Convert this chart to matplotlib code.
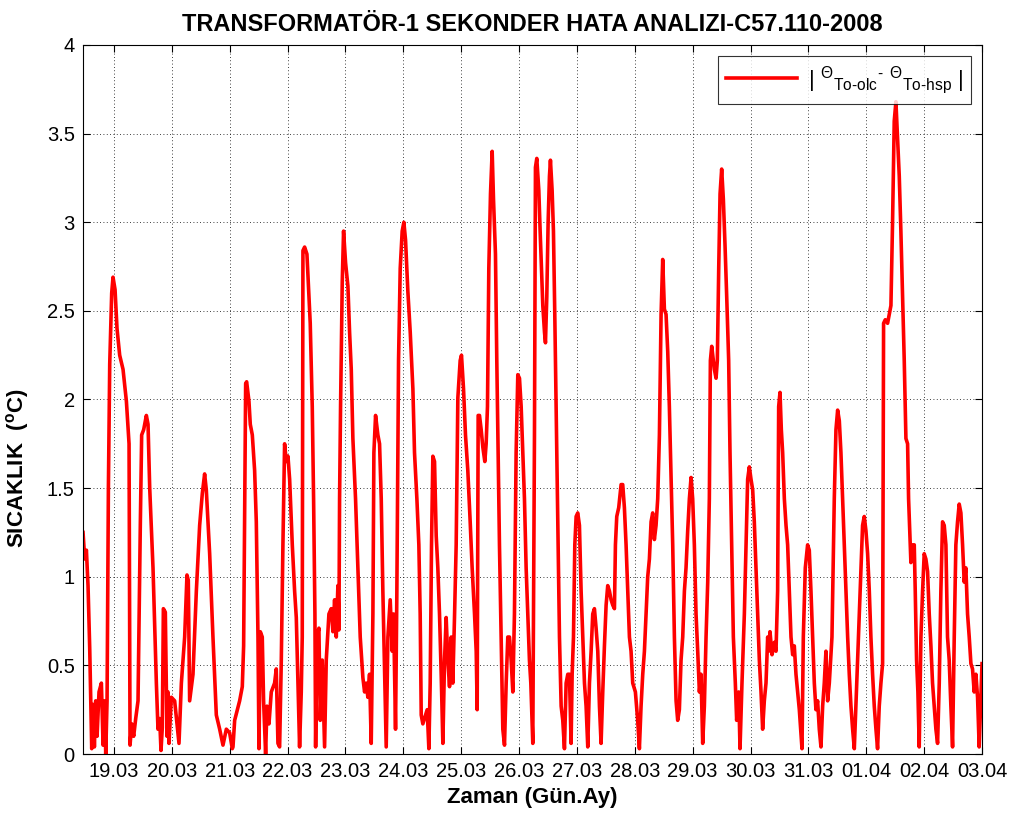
import numpy as np
import matplotlib.pyplot as plt
from matplotlib.ticker import FixedLocator, FixedFormatter

plt.rcParams['font.family'] = ['Liberation Sans', 'DejaVu Sans']
plt.rcParams['mathtext.fontset'] = 'custom'
plt.rcParams['mathtext.rm'] = 'Liberation Sans'
plt.rcParams['mathtext.it'] = 'Liberation Sans'

# time in days since 19.03 00:00, error in degC
days = np.array([
    -0.535, -0.506, -0.477, -0.449, -0.420, -0.402, -0.385, -0.362, -0.339, -0.316,
    -0.293, -0.259, -0.218, -0.189, -0.161, -0.143, -0.120, -0.097, -0.074, -0.040,
    -0.017, 0.018, 0.052, 0.098, 0.156, 0.214, 0.260, 0.277, 0.306, 0.340,
    0.375, 0.415, 0.455, 0.478, 0.513, 0.559, 0.588, 0.617, 0.674, 0.732,
    0.760, 0.789, 0.812, 0.835, 0.853, 0.887, 0.916, 0.933, 0.950, 0.991,
    1.048, 1.123, 1.164, 1.221, 1.261, 1.284, 1.307, 1.365, 1.423, 1.480,
    1.526, 1.566, 1.595, 1.653, 1.710, 1.768, 1.826, 1.883, 1.941, 1.998,
    2.044, 2.056, 2.085, 2.171, 2.217, 2.240, 2.257, 2.275, 2.292, 2.332,
    2.355, 2.390, 2.430, 2.459, 2.488, 2.505, 2.528, 2.562, 2.585, 2.620,
    2.643, 2.678, 2.718, 2.775, 2.804, 2.833, 2.862, 2.891, 2.919, 2.948,
    2.977, 3.006, 3.035, 3.081, 3.121, 3.150, 3.178, 3.207, 3.236, 3.253,
    3.265, 3.294, 3.334, 3.368, 3.391, 3.426, 3.449, 3.472, 3.484, 3.507,
    3.541, 3.564, 3.599, 3.639, 3.668, 3.714, 3.754, 3.783, 3.812, 3.841,
    3.869, 3.887, 3.898, 3.915, 3.944, 3.967, 4.002, 4.042, 4.071, 4.100,
    4.128, 4.174, 4.215, 4.255, 4.301, 4.330, 4.359, 4.387, 4.416, 4.445,
    4.474, 4.491, 4.520, 4.560, 4.589, 4.618, 4.646, 4.675, 4.704, 4.733,
    4.773, 4.808, 4.831, 4.865, 4.888, 4.917, 4.946, 4.980, 5.009, 5.038,
    5.078, 5.119, 5.165, 5.193, 5.234, 5.268, 5.291, 5.309, 5.337, 5.383,
    5.412, 5.441, 5.464, 5.487, 5.510, 5.539, 5.568, 5.596, 5.625, 5.654,
    5.683, 5.712, 5.740, 5.769, 5.798, 5.827, 5.855, 5.884, 5.913, 5.942,
    5.982, 6.005, 6.040, 6.074, 6.114, 6.155, 6.189, 6.230, 6.259, 6.276,
    6.293, 6.316, 6.345, 6.374, 6.408, 6.431, 6.454, 6.477, 6.506, 6.535,
    6.558, 6.592, 6.615, 6.638, 6.661, 6.690, 6.719, 6.748, 6.777, 6.805,
    6.834, 6.863, 6.892, 6.920, 6.949, 6.978, 7.007, 7.036, 7.064, 7.093,
    7.122, 7.151, 7.179, 7.203, 7.237, 7.266, 7.283, 7.306, 7.341, 7.364,
    7.387, 7.410, 7.439, 7.456, 7.479, 7.502, 7.525, 7.542, 7.571, 7.594,
    7.617, 7.640, 7.669, 7.698, 7.727, 7.755, 7.784, 7.813, 7.842, 7.870,
    7.899, 7.917, 7.940, 7.963, 7.986, 8.014, 8.043, 8.072, 8.101, 8.130,
    8.158, 8.187, 8.216, 8.245, 8.273, 8.302, 8.331, 8.360, 8.389, 8.417,
    8.446, 8.475, 8.504, 8.532, 8.561, 8.590, 8.619, 8.648, 8.665, 8.688,
    8.722, 8.763, 8.791, 8.820, 8.849, 8.878, 8.907, 8.935, 8.964, 9.010,
    9.050, 9.079, 9.108, 9.137, 9.166, 9.194, 9.223, 9.252, 9.281, 9.309,
    9.338, 9.367, 9.396, 9.425, 9.454, 9.482, 9.511, 9.540, 9.569, 9.597,
    9.626, 9.655, 9.684, 9.713, 9.741, 9.770, 9.799, 9.828, 9.857, 9.885,
    9.914, 9.943, 9.972, 10.000, 10.029, 10.058, 10.087, 10.116, 10.144, 10.173,
    10.202, 10.231, 10.260, 10.288, 10.306, 10.329, 10.346, 10.375, 10.404, 10.426,
    10.450, 10.473, 10.501, 10.530, 10.559, 10.588, 10.622, 10.645, 10.674, 10.703,
    10.737, 10.760, 10.795, 10.818, 10.852, 10.893, 10.922, 10.950, 10.979, 11.008,
    11.037, 11.065, 11.094, 11.123, 11.152, 11.181, 11.209, 11.238, 11.267, 11.296,
    11.313, 11.336, 11.371, 11.411, 11.440, 11.468, 11.486, 11.509, 11.532, 11.555,
    11.584, 11.613, 11.641, 11.670, 11.699, 11.728, 11.756, 11.785, 11.814, 11.843,
    11.889, 11.912, 11.946, 11.986, 12.015, 12.044, 12.073, 12.102, 12.130, 12.159,
    12.188, 12.217, 12.246, 12.274, 12.303, 12.332, 12.361, 12.407, 12.447, 12.476,
    12.505, 12.534, 12.562, 12.591, 12.620, 12.649, 12.678, 12.706, 12.735, 12.764,
    12.793, 12.821, 12.850, 12.879, 12.908, 12.936, 12.965, 12.994, 13.023, 13.052,
    13.080, 13.109, 13.138, 13.167, 13.195, 13.224, 13.253, 13.282, 13.299, 13.328,
    13.368, 13.397, 13.426, 13.454, 13.483, 13.512, 13.541, 13.570, 13.598, 13.627,
    13.656, 13.685, 13.714, 13.731, 13.754, 13.771, 13.800, 13.829, 13.846, 13.869,
    13.892, 13.915, 13.944, 13.973, 14.001, 14.030, 14.059, 14.088, 14.117, 14.145,
    14.174, 14.203, 14.232, 14.261, 14.289, 14.318, 14.347, 14.376, 14.404, 14.433,
    14.462, 14.491, 14.520, 14.548, 14.577, 14.606, 14.635, 14.664, 14.692, 14.721,
    14.750, 14.779, 14.808, 14.836, 14.865, 14.894, 14.923, 14.951, 15.000,
])

hata = np.array([
    1.25, 1.10, 1.15, 0.95, 0.60, 0.30, 0.03, 0.28, 0.04, 0.30,
    0.10, 0.35, 0.40, 0.05, 0.30, 0.00, 0.30, 1.50, 2.20, 2.60,
    2.69, 2.62, 2.40, 2.25, 2.17, 1.99, 1.75, 0.05, 0.17, 0.10,
    0.20, 0.30, 1.30, 1.80, 1.83, 1.91, 1.86, 1.50, 1.05, 0.40,
    0.14, 0.20, 0.02, 0.15, 0.82, 0.80, 0.10, 0.35, 0.06, 0.32,
    0.30, 0.06, 0.40, 0.66, 1.01, 0.98, 0.30, 0.45, 0.92, 1.29,
    1.47, 1.58, 1.49, 1.13, 0.66, 0.22, 0.14, 0.05, 0.14, 0.12,
    0.03, 0.04, 0.19, 0.30, 0.38, 0.61, 1.34, 2.09, 2.10, 1.99,
    1.86, 1.80, 1.60, 1.31, 0.66, 0.03, 0.69, 0.66, 0.30, 0.00,
    0.27, 0.17, 0.35, 0.40, 0.48, 0.06, 0.04, 0.53, 1.18, 1.75,
    1.65, 1.68, 1.55, 1.18, 0.92, 0.77, 0.40, 0.04, 0.35, 0.66,
    2.84, 2.86, 2.82, 2.58, 2.43, 1.96, 1.44, 0.79, 0.04, 0.66,
    0.71, 0.19, 0.53, 0.04, 0.53, 0.79, 0.82, 0.69, 0.87, 0.66,
    0.95, 0.70, 1.44, 1.96, 2.66, 2.95, 2.77, 2.64, 2.38, 2.17,
    1.78, 1.44, 1.05, 0.66, 0.43, 0.35, 0.40, 0.32, 0.45, 0.06,
    0.79, 1.70, 1.91, 1.80, 1.75, 1.44, 0.92, 0.48, 0.04, 0.66,
    0.87, 0.58, 0.79, 0.14, 0.92, 2.22, 2.74, 2.95, 3.00, 2.90,
    2.61, 2.38, 2.06, 1.70, 1.44, 1.18, 0.79, 0.22, 0.17, 0.22,
    0.25, 0.03, 0.40, 1.18, 1.68, 1.65, 1.23, 1.05, 0.79, 0.45,
    0.06, 0.53, 0.77, 0.53, 0.38, 0.66, 0.40, 0.77, 1.18, 2.01,
    2.22, 2.25, 2.06, 1.80, 1.60, 1.31, 1.05, 0.79, 0.58, 0.25,
    1.91, 1.91, 1.83, 1.73, 1.65, 1.75, 1.96, 2.74, 3.16, 3.40,
    3.13, 2.82, 2.22, 1.70, 1.18, 0.66, 0.14, 0.05, 0.40, 0.66,
    0.66, 0.53, 0.35, 0.79, 1.70, 2.14, 2.12, 1.96, 1.70, 1.44,
    1.05, 0.79, 0.53, 0.40, 0.06, 1.80, 3.31, 3.36, 3.18, 2.95,
    2.74, 2.53, 2.38, 2.32, 2.58, 3.00, 3.26, 3.35, 3.18, 2.95,
    2.48, 1.96, 1.31, 0.66, 0.27, 0.19, 0.03, 0.40, 0.45, 0.45,
    0.06, 0.45, 0.66, 1.18, 1.34, 1.36, 1.29, 0.92, 0.66, 0.40,
    0.27, 0.04, 0.40, 0.58, 0.79, 0.82, 0.71, 0.58, 0.27, 0.06,
    0.35, 0.61, 0.84, 0.95, 0.92, 0.87, 0.84, 0.82, 1.18, 1.34,
    1.39, 1.52, 1.52, 1.39, 1.18, 0.92, 0.66, 0.58, 0.40, 0.35,
    0.19, 0.03, 0.27, 0.45, 0.58, 0.79, 1.00, 1.10, 1.31, 1.36,
    1.21, 1.29, 1.44, 1.80, 2.48, 2.79, 2.51, 2.48, 2.27, 1.96,
    1.57, 1.18, 0.66, 0.30, 0.19, 0.25, 0.53, 0.66, 0.92, 1.05,
    1.26, 1.44, 1.56, 1.44, 1.18, 0.79, 0.58, 0.35, 0.45, 0.06,
    0.27, 0.66, 0.97, 1.44, 2.22, 2.30, 2.25, 2.17, 2.12, 2.22,
    2.74, 3.16, 3.30, 3.13, 2.87, 2.58, 2.22, 1.70, 1.18, 0.66,
    0.40, 0.19, 0.35, 0.03, 0.40, 0.79, 1.18, 1.55, 1.62, 1.55,
    1.49, 1.31, 1.05, 0.79, 0.53, 0.35, 0.14, 0.30, 0.40, 0.66,
    0.58, 0.69, 0.56, 0.63, 0.58, 0.92, 1.96, 2.04, 1.83, 1.70,
    1.44, 1.29, 1.18, 0.92, 0.66, 0.56, 0.61, 0.45, 0.35, 0.25,
    0.03, 0.66, 1.05, 1.18, 1.15, 0.92, 0.66, 0.40, 0.25, 0.30,
    0.14, 0.04, 0.27, 0.40, 0.58, 0.30, 0.40, 0.66, 1.44, 1.83,
    1.94, 1.88, 1.70, 1.44, 1.18, 0.92, 0.66, 0.45, 0.27, 0.14,
    0.03, 0.27, 0.53, 0.79, 1.05, 1.29, 1.34, 1.26, 1.13, 0.92,
    0.66, 0.45, 0.27, 0.14, 0.03, 0.27, 0.40, 0.51, 2.43, 2.45,
    2.43, 2.48, 2.53, 3.00, 3.57, 3.68, 3.47, 3.26, 2.95, 2.58,
    2.22, 1.78, 1.75, 1.44, 1.23, 1.08, 1.18, 1.18, 0.92, 0.53,
    0.35, 0.04, 0.66, 0.92, 1.13, 1.10, 1.03, 0.79, 0.61, 0.40,
    0.27, 0.14, 0.06, 0.40, 0.92, 1.31, 1.29, 1.18, 0.66, 0.53,
    0.27, 0.04, 0.66, 1.18, 1.31, 1.41, 1.36, 1.18, 0.97, 1.05,
    0.79, 0.66, 0.51, 0.48, 0.35, 0.45, 0.32, 0.04, 0.51,
])

tick_days = list(range(16))
tick_labels = ['19.03', '20.03', '21.03', '22.03', '23.03', '24.03', '25.03', '26.03',
               '27.03', '28.03', '29.03', '30.03', '31.03', '01.04', '02.04', '03.04']
y_ticks = [0, 0.5, 1, 1.5, 2, 2.5, 3, 3.5, 4]
y_labels = ['0', '0.5', '1', '1.5', '2', '2.5', '3', '3.5', '4']

fig = plt.figure(figsize=(10.24, 8.21), dpi=100)
ax = fig.add_axes([0.0811, 0.0816, 0.8779, 0.8636])

ax.plot(days, hata, color='#ff0000', lw=2.6,
        label='| ${}^{\\Theta}{}_{\\mathregular{To\u2010olc}}{}^{\\mathregular{\u2010}}$ '
              '${}^{\\Theta}{}_{\\mathregular{To\u2010hsp}}$ |')

ax.set_xlim(days[0], 15.0)
ax.set_ylim(0, 4)
ax.xaxis.set_major_locator(FixedLocator(tick_days))
ax.xaxis.set_major_formatter(FixedFormatter(tick_labels))
ax.yaxis.set_major_locator(FixedLocator(y_ticks))
ax.yaxis.set_major_formatter(FixedFormatter(y_labels))

ax.grid(True, color='black', linestyle=(0, (1, 3)), linewidth=0.6)
ax.tick_params(direction='in', length=5, width=0.8, top=True, right=True,
               labelsize=14.5, pad=6)
for s in ax.spines.values():
    s.set_linewidth(0.8)

ax.set_title('TRANSFORMATÖR-1 SEKONDER HATA ANALIZI-C57.110-2008',
             fontsize=17, fontweight='bold', pad=10)
ax.set_xlabel('Zaman (Gün.Ay)', fontsize=16, fontweight='bold', labelpad=4)
ax.set_ylabel('SICAKLIK  ($^{\\mathregular{o}}$C)', fontsize=16, fontweight='bold')
ax.yaxis.set_label_coords(-0.058, 0.403)

leg = ax.legend(loc='upper right', fontsize=16, frameon=True, fancybox=False,
                edgecolor='black', handlelength=3.2, handletextpad=0.5,
                borderaxespad=0.5, borderpad=0.35)
leg.get_frame().set_linewidth(0.8)

fig.savefig('out.png', dpi=100)
